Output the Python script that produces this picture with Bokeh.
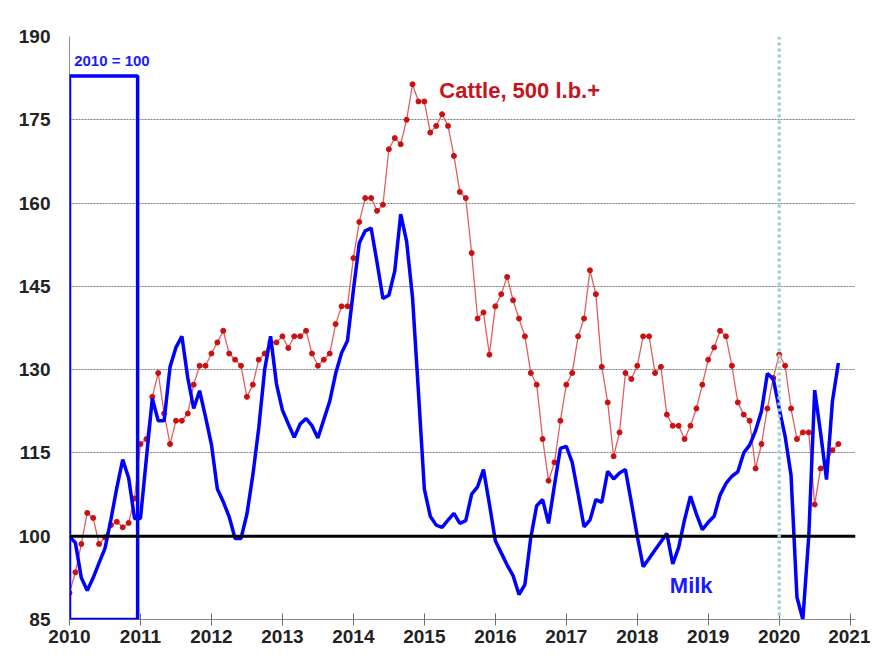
from bokeh.plotting import figure
from bokeh.models import ColumnDataSource, FixedTicker, Span, BoxAnnotation, Label
from bokeh.embed import file_html
from bokeh.resources import INLINE

# ---- data (monthly, Jan 2010 .. Nov 2020), index 2010 = 100 ----
start_year = 2010
cattle = [
    89.8, 93.5, 98.6, 104.2, 103.3, 98.6, 99.8, 102.0, 102.6, 101.6, 102.4, 106.8,
    116.6, 117.5, 125.1, 129.4, 122.1, 116.6, 120.8, 120.8, 122.1, 127.3, 130.7, 130.7,
    132.9, 134.9, 137.0, 132.9, 131.8, 130.7, 125.1, 127.3, 131.8, 132.9, 134.9, 134.9,
    136.0, 133.9, 136.0, 136.0, 137.0, 132.9, 130.7, 131.8, 132.9, 138.2, 141.4, 141.4,
    150.1, 156.6, 160.9, 160.9, 158.6, 159.7, 169.7, 171.7, 170.6, 175.0, 181.4, 178.3,
    178.3, 172.7, 173.9, 176.0, 173.9, 168.5, 162.0, 160.9, 151.0, 139.2, 140.3, 132.7,
    141.4, 143.6, 146.7, 142.5, 139.2, 136.0, 129.4, 127.3, 117.5, 110.0, 113.3, 120.8,
    127.3, 129.4, 136.0, 139.2, 147.9, 143.6, 130.5, 124.1, 114.4, 118.7, 129.4, 128.3,
    130.7, 136.0, 136.0, 129.4, 130.5, 121.9, 119.9, 119.9, 117.5, 119.9, 123.0, 127.3,
    131.8, 134.0, 137.0, 136.0, 130.7, 124.1, 121.9, 120.8, 112.2, 116.6, 123.0, 128.5,
    132.7, 130.7, 123.0, 117.5, 118.7, 118.7, 105.7, 112.2, 113.3, 115.5, 116.6,
]
milk = [
    100.0, 98.8, 92.5, 90.2, 92.5, 95.2, 97.8, 103.0, 108.7, 113.8, 110.5, 103.2,
    103.2, 114.0, 124.8, 120.8, 120.8, 130.5, 134.0, 136.0, 128.5, 123.0, 126.2, 121.5,
    116.5, 108.5, 106.2, 103.5, 99.6, 99.6, 104.0, 111.0, 119.5, 130.0, 136.0, 127.4,
    122.7, 120.2, 117.8, 120.2, 121.2, 119.9, 117.7, 121.0, 124.3, 129.3, 133.0, 135.2,
    144.3, 152.8, 155.0, 155.5, 149.3, 142.8, 143.4, 147.8, 158.0, 153.1, 143.0, 126.0,
    108.5, 103.6, 102.0, 101.6, 102.9, 104.1, 102.3, 102.8, 107.6, 108.9, 112.0, 105.8,
    99.2, 97.0, 94.8, 92.9, 89.5, 91.3, 99.8, 105.5, 106.6, 102.3, 109.2, 115.8,
    116.2, 113.3, 107.6, 101.7, 102.9, 106.6, 106.1, 111.7, 110.3, 111.4, 112.0, 106.1,
    100.0, 94.5, 96.0, 97.5, 99.0, 100.5, 95.0, 98.0, 103.0, 107.2, 104.0, 101.2,
    102.5, 103.6, 107.4, 109.5, 110.8, 111.6, 115.0, 116.4, 119.0, 122.5, 129.3, 128.3,
    123.0, 118.0, 111.0, 89.0, 85.0, 100.0, 126.3, 118.6, 110.2, 124.3, 131.2,
]
year_ticks = list(range(2010, 2022))
year_labels = [str(y) for y in year_ticks]
y_ticks = [85, 100, 115, 130, 145, 160, 175, 190]
y_grid = [115, 130, 145, 160, 175, 190]
base_value = 100
covid_year = 2020
base_box = dict(left=2010, right=2010.96, bottom=85, top=182.9)

t = [start_year + i / 12 for i in range(len(cattle))]
src = ColumnDataSource(dict(t=t, cattle=cattle, milk=milk))

FONT = "Liberation Sans"

p = figure(width=870, height=652, output_backend="svg", toolbar_location=None,
           x_range=(2010, 2021.075), y_range=(85, 190),
           min_border_left=69, min_border_right=15, min_border_top=36, min_border_bottom=33)
p.outline_line_color = None
p.background_fill_color = "white"
p.border_fill_color = "white"

# axes
p.xaxis.ticker = FixedTicker(ticks=year_ticks)
p.xaxis.major_label_overrides = {y: l for y, l in zip(year_ticks, year_labels)}
p.yaxis.ticker = FixedTicker(ticks=y_ticks)
for ax in (p.xaxis[0], p.yaxis[0]):
    ax.axis_line_color = "#8c8c8c"
    ax.axis_line_width = 1
    ax.major_tick_line_color = "#6c6c6c"
    ax.minor_tick_line_color = None
    ax.major_label_text_font = FONT
    ax.major_label_text_font_style = "bold"
    ax.major_label_text_font_size = "19px"
    ax.major_label_text_color = "#222222"
p.xaxis.major_tick_in = 6
p.xaxis.major_tick_out = 6
p.xaxis.major_label_standoff = 4
p.yaxis.major_tick_in = 0
p.yaxis.major_tick_out = 0
p.yaxis.major_label_standoff = 19

p.xgrid.visible = False
p.ygrid.ticker = FixedTicker(ticks=y_grid)
p.ygrid.grid_line_color = "#7a7a7a"
p.ygrid.grid_line_dash = "2 1"
p.ygrid.grid_line_width = 1

# base-year box
p.add_layout(BoxAnnotation(left=base_box["left"], right=base_box["right"],
                           bottom=base_box["bottom"], top=base_box["top"],
                           fill_alpha=0, line_color="#0000ff", line_alpha=1.0,
                           line_width=3.5))

# baseline at 100 and 2020 marker
p.add_layout(Span(location=base_value, dimension="width", line_color="black", line_width=3))
p.add_layout(Span(location=covid_year, dimension="height", line_color="#9ed3d6",
                  line_width=3.5, line_dash="3 3"))

# series
p.line("t", "cattle", source=src, line_color="#e06060", line_width=1.3)
p.scatter("t", "cattle", source=src, marker="circle", size=5,
          fill_color="#cc1010", line_color="#cc1010")
p.line("t", "milk", source=src, line_color="#0000ff", line_width=3.5)

# labels
p.add_layout(Label(x=2010.066, y=185.6, text="2010 = 100", text_font=FONT,
                   text_font_style="bold", text_font_size="15px", text_color="#1a1aff",
                   text_baseline="middle", text_align="left"))
p.add_layout(Label(x=2015.21, y=180.3, text="Cattle, 500 l.b.+", text_font=FONT,
                   text_font_style="bold", text_font_size="22px", text_color="#c8141c",
                   text_baseline="middle", text_align="left"))
p.add_layout(Label(x=2018.76, y=91.2, text="Milk", text_font=FONT,
                   text_font_style="bold", text_font_size="22px", text_color="#1a1aff",
                   text_baseline="middle", text_align="center"))

open("out.html", "w").write(file_html(p, INLINE, title="Cattle and Milk index"))
